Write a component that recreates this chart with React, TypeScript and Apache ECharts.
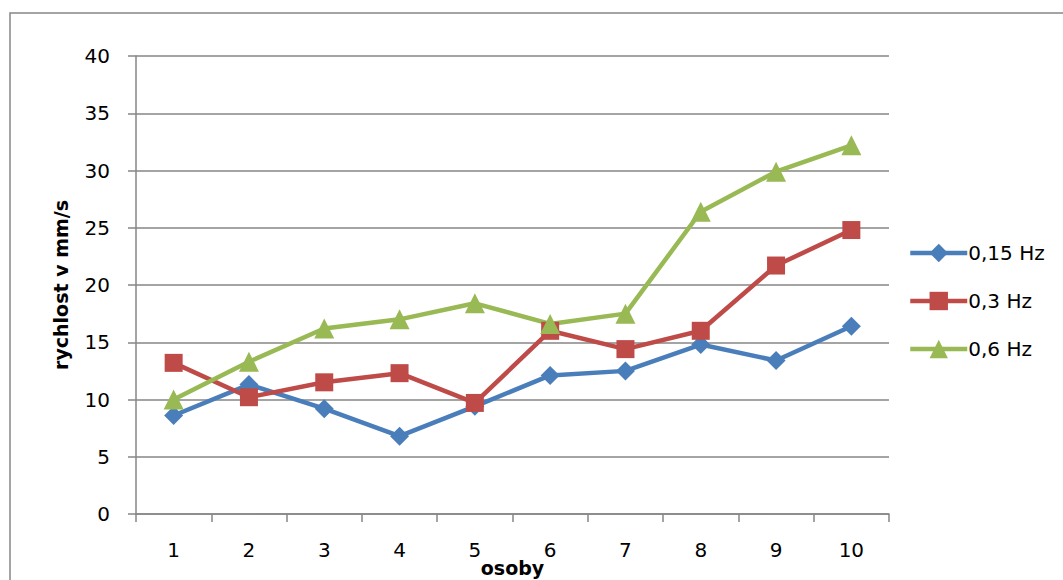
import React, { useEffect, useRef } from "react";
import * as echarts from "echarts";

// Subjects (osoby) on the x axis
const categories: string[] = ["1", "2", "3", "4", "5", "6", "7", "8", "9", "10"];

// Speed in mm/s for each stimulation frequency
const hz015: number[] = [8.6, 11.3, 9.2, 6.8, 9.4, 12.1, 12.5, 14.8, 13.4, 16.4];
const hz03: number[] = [13.2, 10.2, 11.5, 12.3, 9.7, 16.0, 14.4, 16.0, 21.7, 24.8];
const hz06: number[] = [10.0, 13.3, 16.2, 17.0, 18.4, 16.6, 17.5, 26.4, 29.9, 32.2];

const seriesNames: string[] = ["0,15 Hz", "0,3 Hz", "0,6 Hz"];

const FONT = "DejaVu Sans";
const AXIS_GRAY = "#868686";
const WIDTH = 1063;
const HEIGHT = 580;

export default function App() {
  const ref = useRef<HTMLDivElement>(null);

  useEffect(() => {
    if (!ref.current) return;
    const chart = echarts.init(ref.current, undefined, {
      renderer: "svg",
      width: WIDTH,
      height: HEIGHT,
    });

    const lineSeries = (
      name: string,
      data: number[],
      color: string,
      symbol: string,
      symbolSize: number | number[]
    ) => ({
      name,
      type: "line",
      data,
      symbol,
      symbolSize,
      showAllSymbol: true,
      lineStyle: { color, width: 4.5 },
      itemStyle: { color, borderWidth: 0 },
      emphasis: { disabled: true },
    });

    chart.setOption({
      animation: false,
      backgroundColor: "#ffffff",
      textStyle: { fontFamily: FONT },
      graphic: [
        {
          type: "rect",
          shape: { x: 10, y: 13, width: 1100, height: 620 },
          style: { fill: "none", stroke: AXIS_GRAY, lineWidth: 1.5 },
          silent: true,
          z: -1,
        },
      ],
      grid: {
        left: 136,
        right: 174,
        top: 56,
        bottom: 66,
        containLabel: false,
        outerBoundsMode: "none",
      },
      legend: {
        orient: "vertical",
        left: 908,
        top: 243,
        padding: 0,
        itemWidth: 57,
        itemHeight: 23,
        itemGap: 28,
        data: seriesNames,
        lineStyle: { width: 4.5 },
        textStyle: { fontFamily: FONT, fontSize: 20, color: "#000", padding: [0, 0, 0, -4] },
      },
      xAxis: {
        type: "category",
        data: categories,
        boundaryGap: true,
        name: "osoby",
        nameLocation: "middle",
        nameGap: 44,
        nameMoveOverlap: false,
        nameTextStyle: { fontFamily: FONT, fontSize: 19, fontWeight: "bold", color: "#000" },
        axisLine: { lineStyle: { color: AXIS_GRAY, width: 1.5 } },
        axisTick: { show: true, length: 8, lineStyle: { color: AXIS_GRAY, width: 1.5 } },
        axisLabel: { fontFamily: FONT, fontSize: 20, color: "#000", margin: 26 },
        splitLine: { show: false },
      },
      yAxis: {
        type: "value",
        min: 0,
        max: 40,
        interval: 5,
        name: "rychlost v mm/s",
        nameLocation: "middle",
        nameGap: 66,
        nameRotate: 90,
        nameTextStyle: { fontFamily: FONT, fontSize: 19, fontWeight: "bold", color: "#000" },
        axisLine: { show: true, lineStyle: { color: AXIS_GRAY, width: 1.5 } },
        axisTick: { show: true, length: 8, lineStyle: { color: AXIS_GRAY, width: 1.5 } },
        axisLabel: { fontFamily: FONT, fontSize: 20, color: "#000", margin: 26 },
        splitLine: { show: true, lineStyle: { color: AXIS_GRAY, width: 1.5 } },
      },
      series: [
        lineSeries(seriesNames[0], hz015, "#4A7EBB", "diamond", [19, 19]),
        lineSeries(seriesNames[1], hz03, "#BE4B48", "rect", 18),
        lineSeries(seriesNames[2], hz06, "#98B954", "triangle", 20),
      ],
    });

    return () => chart.dispose();
  }, []);

  return (
    <div
      ref={ref}
      style={{ position: "fixed", left: 0, top: 0, width: WIDTH, height: HEIGHT }}
    />
  );
}
